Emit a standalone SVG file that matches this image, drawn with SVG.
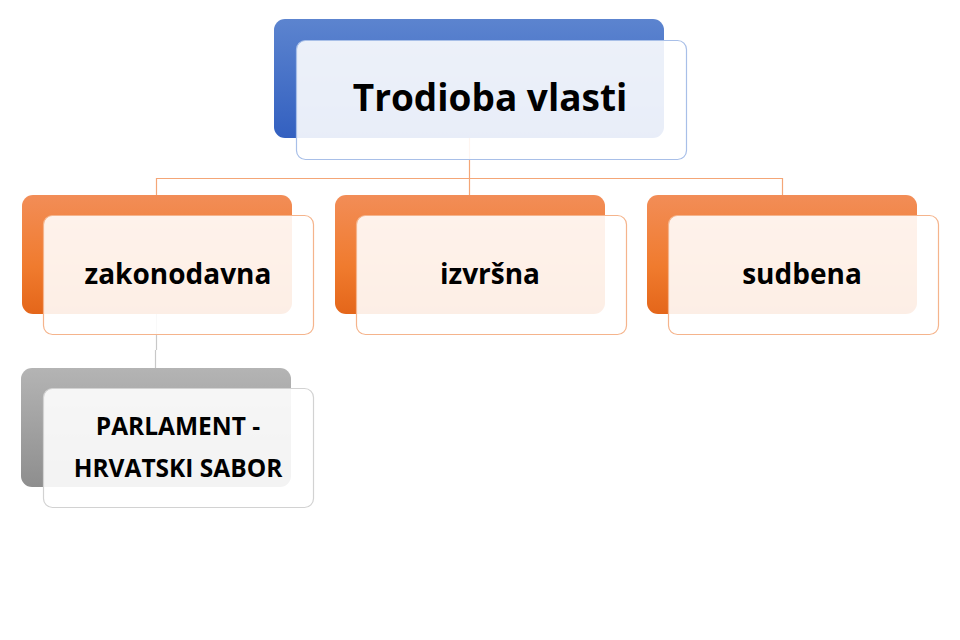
<svg xmlns="http://www.w3.org/2000/svg" width="960" height="640" viewBox="0 0 960 640">
<defs>
<linearGradient id="gBlue" x1="0" y1="0" x2="0" y2="1"><stop offset="0" stop-color="#5C84CF"/><stop offset="1" stop-color="#3360C0"/></linearGradient>
<linearGradient id="gOrange" x1="0" y1="0" x2="0" y2="1"><stop offset="0" stop-color="#F28D57"/><stop offset="0.6" stop-color="#F07B2E"/><stop offset="1" stop-color="#E4661A"/></linearGradient>
<linearGradient id="gGray" x1="0" y1="0" x2="0" y2="1"><stop offset="0" stop-color="#B4B4B4"/><stop offset="1" stop-color="#8E8E8E"/></linearGradient>
</defs>
<style>
.back{stroke:none}
.front{fill:#ffffff;fill-opacity:0.89;stroke-width:1.2}
.fb{stroke:#A8BFE8}
.fo{stroke:#F5B48C}
.fg{stroke:#D2D2D2}
.t{font-family:"Open Sans","Noto Sans","DejaVu Sans",sans-serif;font-weight:bold;fill:#000;text-anchor:middle}
.conn{fill:none;stroke-width:1.2}
</style>
<rect width="960" height="640" fill="#ffffff"/>
<g id="connectors">
<path class="conn" stroke="#F4A677" d="M469.5 138 V178.5 M156.5 195 V178.5 H782.5 V195 M469.5 178.5 V195"/>
<path class="conn" stroke="#C8C8C8" d="M156.5 314 V350 M155.5 350 V368"/>
</g>
<g id="node-root">
<rect class="back" x="274" y="19" width="390" height="119" rx="11" fill="url(#gBlue)"/>
<rect class="front fb" x="296.5" y="40.5" width="390" height="119" rx="9"/>
<text class="t" x="490" y="111" font-size="37">Trodioba vlasti</text>
</g>
<g id="node-zakonodavna">
<rect class="back" x="22" y="195" width="270" height="119" rx="11" fill="url(#gOrange)"/>
<rect class="front fo" x="43.5" y="215.5" width="270" height="119" rx="9"/>
<text class="t" x="178" y="284" font-size="28">zakonodavna</text>
</g>
<g id="node-izvrsna">
<rect class="back" x="335" y="195" width="270" height="119" rx="11" fill="url(#gOrange)"/>
<rect class="front fo" x="356.5" y="215.5" width="270" height="119" rx="9"/>
<text class="t" x="490" y="284" font-size="28">izvršna</text>
</g>
<g id="node-sudbena">
<rect class="back" x="647" y="195" width="270" height="119" rx="11" fill="url(#gOrange)"/>
<rect class="front fo" x="668.5" y="215.5" width="270" height="119" rx="9"/>
<text class="t" x="802" y="284" font-size="28">sudbena</text>
</g>
<g id="node-parlament">
<rect class="back" x="21" y="368" width="270" height="119" rx="11" fill="url(#gGray)"/>
<rect class="front fg" x="43.5" y="388.5" width="270" height="119" rx="9"/>
<text class="t" x="178" y="435" font-size="24.5">PARLAMENT -</text>
<text class="t" x="178" y="477" font-size="24.5">HRVATSKI SABOR</text>
</g>
</svg>
